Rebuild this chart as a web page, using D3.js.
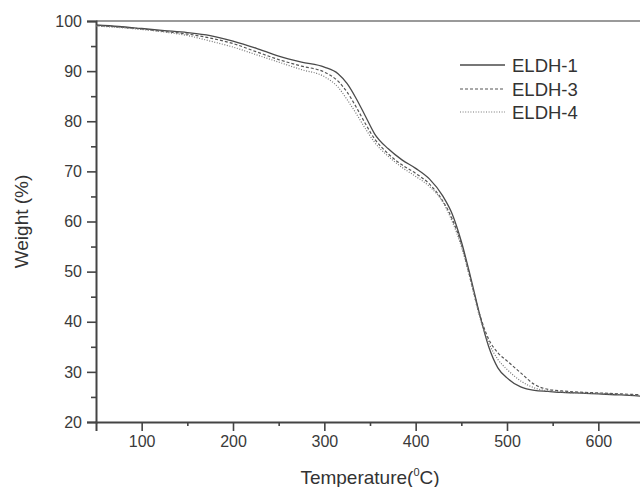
<!DOCTYPE html>
<html>
<head>
<meta charset="utf-8">
<script src="https://cdn.jsdelivr.net/npm/d3@7"></script>
<style>
  html, body { margin: 0; padding: 0; background: #fff; }
  svg { display: block; font-family: "Liberation Sans", Arial, sans-serif; }
</style>
</head>
<body>
<svg id="chart" width="640" height="487"></svg>
<script>
// TGA curves: temperature (°C) vs remaining weight (%)
const temps = [50, 75, 100, 125, 150, 175, 200, 225, 250, 275, 300, 315, 325, 335, 345, 355, 370, 385, 400, 415, 430, 440, 450, 460, 470, 480, 490, 500, 515, 530, 545, 560, 575, 600, 625, 650];

const eldh1 = [99.2, 98.9, 98.5, 98.1, 97.7, 97.1, 96.0, 94.6, 93.0, 91.8, 90.8, 89.5, 87.5, 84.5, 81.0, 77.5, 74.5, 72.3, 70.6, 68.5, 65.0, 61.5, 56.0, 49.0, 41.5, 35.0, 30.8, 28.8, 27.0, 26.3, 26.1, 25.9, 25.8, 25.6, 25.4, 25.1];
const eldh3 = [99.1, 98.8, 98.4, 97.9, 97.4, 96.6, 95.5, 93.9, 92.3, 91.0, 89.8, 88.0, 85.8, 82.8, 79.5, 76.5, 73.5, 71.3, 69.6, 67.5, 64.0, 60.5, 55.5, 48.5, 41.5, 36.5, 33.8, 32.2, 29.8, 27.5, 26.5, 26.2, 26.0, 25.8, 25.6, 25.4];
const eldh4 = [99.0, 98.7, 98.3, 97.8, 97.1, 96.0, 94.8, 93.3, 91.8, 90.3, 88.9, 86.8, 84.3, 81.5, 78.5, 75.8, 73.0, 70.8, 69.0, 67.0, 63.8, 60.0, 55.0, 48.3, 41.0, 35.8, 32.5, 30.5, 28.2, 26.8, 26.2, 26.0, 25.8, 25.7, 25.5, 25.3];

const seriesNames = ["ELDH-1", "ELDH-3", "ELDH-4"];
const xTicks = [100, 200, 300, 400, 500, 600];
const yTicks = [20, 30, 40, 50, 60, 70, 80, 90, 100];

const series = [
  { name: seriesNames[0], values: eldh1, dash: null,    color: "#4a4a4a", width: 1.3 },
  { name: seriesNames[1], values: eldh3, dash: "3,2",   color: "#555",    width: 1.2 },
  { name: seriesNames[2], values: eldh4, dash: "1,1.6", color: "#777",    width: 1.2 }
];

const svg = d3.select("#chart");
const x = d3.scaleLinear().domain([50, 650]).range([96, 644]);
const y = d3.scaleLinear().domain([20, 100]).range([422, 21]);

// top frame line
svg.append("line")
  .attr("x1", x(50)).attr("x2", x(650))
  .attr("y1", y(100)).attr("y2", y(100))
  .attr("stroke", "#9a9a9a").attr("stroke-width", 2);

// minor ticks
const xMinor = d3.range(150, 651, 100);
const yMinor = d3.range(25, 100, 10);

const xAxis = svg.append("g").attr("transform", `translate(0,${y(20)})`)
  .call(d3.axisBottom(x).tickValues(xTicks).tickSize(9).tickPadding(5).tickFormat(d3.format("d")));
svg.append("g").attr("transform", `translate(0,${y(20)})`)
  .call(d3.axisBottom(x).tickValues(xMinor).tickSize(4).tickFormat(""))
  .call(g => g.select(".domain").remove());

const yAxis = svg.append("g").attr("transform", `translate(${x(50)},0)`)
  .call(d3.axisLeft(y).tickValues(yTicks).tickSize(9).tickPadding(5).tickFormat(d3.format("d")));
svg.append("g").attr("transform", `translate(${x(50)},0)`)
  .call(d3.axisLeft(y).tickValues(yMinor).tickSize(5).tickFormat(""))
  .call(g => g.select(".domain").remove());

svg.selectAll(".domain").attr("stroke", "#444").attr("stroke-width", 2);
svg.selectAll(".tick line").attr("stroke", "#444").attr("stroke-width", 1.6);
svg.selectAll(".tick text").attr("fill", "#3a3a3a").attr("font-size", 16)
  .attr("font-family", "Liberation Sans, Arial, sans-serif");

// curves
const line = d3.line()
  .x((d, i) => x(temps[i]))
  .y(d => y(d))
  .curve(d3.curveMonotoneX);

series.forEach(s => {
  svg.append("path")
    .attr("d", line(s.values))
    .attr("fill", "none")
    .attr("stroke", s.color)
    .attr("stroke-width", s.width)
    .attr("stroke-dasharray", s.dash);
});

// axis titles
const xt = svg.append("text")
  .attr("x", 370).attr("y", 484)
  .attr("text-anchor", "middle")
  .attr("font-size", 19).attr("fill", "#333");
xt.append("tspan").text("Temperature(");
xt.append("tspan").attr("font-size", 11).attr("dy", -8).text("0");
xt.append("tspan").attr("dy", 8).text("C)");

svg.append("text")
  .attr("transform", `translate(28,${(y(20) + y(100)) / 2}) rotate(-90)`)
  .attr("text-anchor", "middle")
  .attr("font-size", 19).attr("fill", "#333")
  .text("Weight (%)");

// legend
const legendY = [65, 89, 112];
series.forEach((s, i) => {
  svg.append("line")
    .attr("x1", 460).attr("x2", 505)
    .attr("y1", legendY[i]).attr("y2", legendY[i])
    .attr("stroke", s.color).attr("stroke-width", s.width)
    .attr("stroke-dasharray", s.dash);
  svg.append("text")
    .attr("x", 512).attr("y", legendY[i])
    .attr("dy", "0.36em")
    .attr("font-size", 18.5).attr("fill", "#333")
    .text(s.name);
});
</script>
</body>
</html>
